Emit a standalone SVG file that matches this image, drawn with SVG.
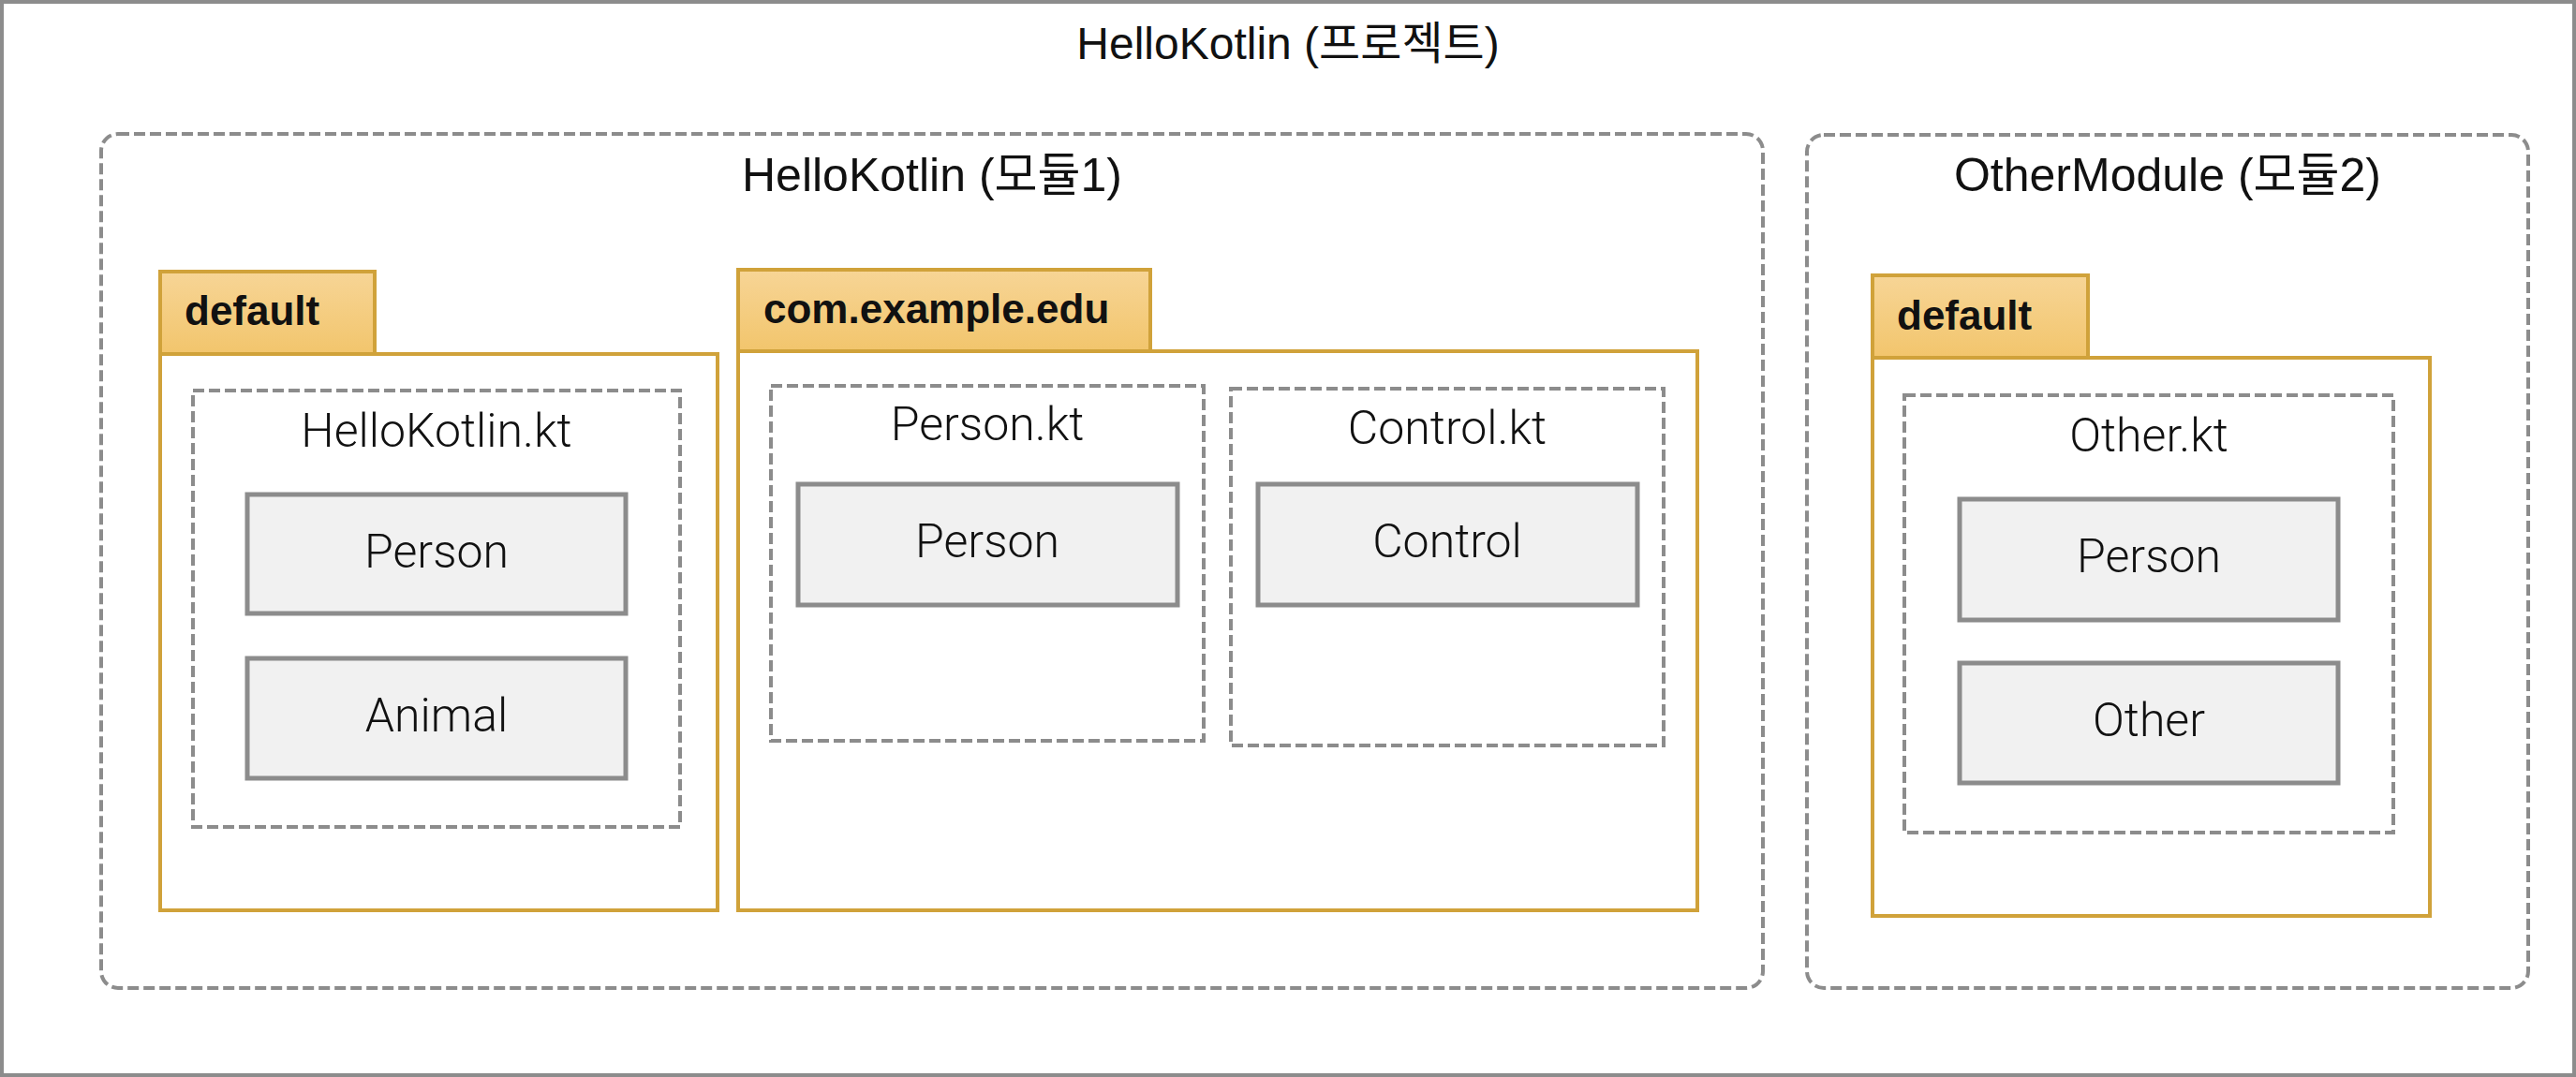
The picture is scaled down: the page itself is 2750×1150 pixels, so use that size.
<svg xmlns="http://www.w3.org/2000/svg" width="2750" height="1150" viewBox="0 0 2750 1150">
<defs>
<linearGradient id="tabGrad" x1="0" y1="0" x2="0" y2="1">
<stop offset="0" stop-color="#f7d596"/>
<stop offset="1" stop-color="#f2c56c"/>
</linearGradient>
<style>
.frame{fill:#ffffff;stroke:#8c8c8c;stroke-width:4}
.module{fill:none;stroke:#8c8c8c;stroke-width:4;stroke-dasharray:12 5}
.file{fill:none;stroke:#8c8c8c;stroke-width:4;stroke-dasharray:12 5}
.tab{fill:url(#tabGrad);stroke:#d0a23a;stroke-width:4}
.pkg{fill:#ffffff;stroke:#d0a23a;stroke-width:4}
.cls{fill:#f1f1f1;stroke:#8c8c8c;stroke-width:5}
.title{font-family:"Liberation Sans","Noto Sans CJK KR",sans-serif;font-size:48px;fill:#111;text-anchor:middle}
.mtitle{font-family:"Liberation Sans","Noto Sans CJK KR",sans-serif;font-size:50px;fill:#111;text-anchor:middle}
.pname{font-family:"Liberation Sans",sans-serif;font-size:44px;font-weight:bold;fill:#111}
.label{font-family:Roboto,"Liberation Sans",sans-serif;font-size:50px;font-weight:300;fill:#111;text-anchor:middle}
</style>
</defs>
<g id="project">
<rect class="frame" x="2" y="2" width="2746" height="1146"/>
<text class="title" x="1375" y="63">HelloKotlin (프로젝트)</text>
</g>
<g id="module1">
<rect class="module" x="108" y="143" width="1774" height="912" rx="18" ry="18"/>
<text class="mtitle" x="995" y="204">HelloKotlin (모듈1)</text>
</g>
<g id="module2">
<rect class="module" x="1929" y="144" width="770" height="911" rx="18" ry="18"/>
<text class="mtitle" x="2314" y="204">OtherModule (모듈2)</text>
</g>
<g id="pkg-default-1">
<rect class="pkg" x="171" y="378" width="595" height="594"/>
<rect class="tab" x="171" y="290" width="229" height="88"/>
<text class="pname" x="197" y="347">default</text>
</g>
<g id="pkg-com-example-edu">
<rect class="pkg" x="788" y="375" width="1024" height="597"/>
<rect class="tab" x="788" y="288" width="440" height="87"/>
<text class="pname" x="815" y="345">com.example.edu</text>
</g>
<g id="pkg-default-2">
<rect class="pkg" x="1999" y="382" width="595" height="596"/>
<rect class="tab" x="1999" y="294" width="230" height="88"/>
<text class="pname" x="2025" y="352">default</text>
</g>
<g id="file-hellokotlin">
<rect class="file" x="206" y="417" width="520" height="466"/>
<text class="label" x="466" y="477">HelloKotlin.kt</text>
</g>
<g id="file-person">
<rect class="file" x="823" y="412" width="462" height="379"/>
<text class="label" x="1054" y="470">Person.kt</text>
</g>
<g id="file-control">
<rect class="file" x="1314" y="415" width="462" height="381"/>
<text class="label" x="1545" y="474">Control.kt</text>
</g>
<g id="file-other">
<rect class="file" x="2033" y="422" width="522" height="467"/>
<text class="label" x="2294" y="482">Other.kt</text>
</g>
<g id="class-person-1">
<rect class="cls" x="264" y="528" width="404" height="127"/>
<text class="label" x="466" y="606">Person</text>
</g>
<g id="class-animal">
<rect class="cls" x="264" y="703" width="404" height="128"/>
<text class="label" x="466" y="781">Animal</text>
</g>
<g id="class-person-2">
<rect class="cls" x="852" y="517" width="405" height="129"/>
<text class="label" x="1054" y="595">Person</text>
</g>
<g id="class-control">
<rect class="cls" x="1343" y="517" width="405" height="129"/>
<text class="label" x="1545" y="595">Control</text>
</g>
<g id="class-person-3">
<rect class="cls" x="2092" y="533" width="404" height="129"/>
<text class="label" x="2294" y="611">Person</text>
</g>
<g id="class-other">
<rect class="cls" x="2092" y="708" width="404" height="128"/>
<text class="label" x="2294" y="786">Other</text>
</g>
<g id="connectors"/>
</svg>
